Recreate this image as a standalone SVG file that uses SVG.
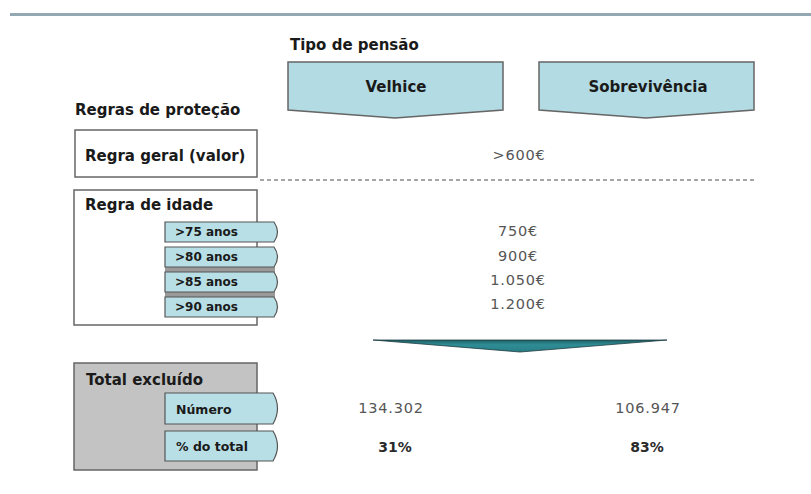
<svg xmlns="http://www.w3.org/2000/svg" width="811" height="494" viewBox="0 0 811 494">
<defs>
<style>
.t{font-family:"DejaVu Sans","Liberation Sans",sans-serif;font-weight:bold;fill:#1a1a1a}
.h{font-size:15px}
.s{font-size:12px}
.v{font-family:"DejaVu Sans","Liberation Sans",sans-serif;font-size:14.5px;letter-spacing:0.8px;fill:#555}
.vb{font-family:"DejaVu Sans","Liberation Sans",sans-serif;font-size:14px;font-weight:bold;fill:#2a2a2a}
.box{fill:#fff;stroke:#666;stroke-width:1.5}
.tab{fill:#b9dfe6;stroke:#555;stroke-width:1.2}
.hdr{fill:#b3dbe3;stroke:#666;stroke-width:1.5}
</style>
<linearGradient id="g" x1="0" y1="0" x2="0" y2="1">
<stop offset="0" stop-color="#1f5f66"/>
<stop offset="0.4" stop-color="#2f8d95"/>
<stop offset="1" stop-color="#2a7d86"/>
</linearGradient>
</defs>
<rect width="811" height="494" fill="#fff"/>
<rect x="10" y="13" width="801" height="3" fill="#94a8b4"/>

<g id="header">
<text class="t h" x="290" y="50">Tipo de pensão</text>
</g>
<g id="velhice">
<path class="hdr" d="M288,62 H503 V110 L395,118 L288,110 Z"/>
<text class="t h" x="396" y="92" text-anchor="middle">Velhice</text>
</g>
<g id="sobrevivencia">
<path class="hdr" d="M539,62 H754 V110 L646,118 L539,110 Z"/>
<text class="t h" x="648" y="92" text-anchor="middle">Sobrevivência</text>
</g>

<g id="regras">
<text class="t h" x="75" y="115">Regras de proteção</text>
</g>

<g id="regra-geral">
<rect class="box" x="75" y="130" width="182" height="47"/>
<text class="t h" x="85" y="161">Regra geral (valor)</text>
<text class="v" x="519" y="160" text-anchor="middle">&gt;600€</text>
</g>

<g id="connectors">
<line x1="260" y1="180" x2="755" y2="180" stroke="#888" stroke-width="1.3" stroke-dasharray="4,3"/>
<path d="M373,340 L667,340 L520,352 Z" fill="url(#g)" stroke="#1e3c40" stroke-width="0.8"/>
</g>

<g id="regra-idade">
<rect class="box" x="74" y="190" width="183" height="135"/>
<text class="t h" x="85" y="210">Regra de idade</text>
<rect x="165" y="267" width="110" height="5" fill="#9a9a9a"/>
<rect x="165" y="292" width="110" height="5" fill="#9a9a9a"/>
<path class="tab" d="M165,222 H274 Q281,232 274,242 H165 Z"/>
<text class="t s" x="175" y="236">&gt;75 anos</text>
<path class="tab" d="M165,247 H274 Q281,257 274,267 H165 Z"/>
<text class="t s" x="175" y="261">&gt;80 anos</text>
<path class="tab" d="M165,272 H274 Q281,282 274,292 H165 Z"/>
<text class="t s" x="175" y="286">&gt;85 anos</text>
<path class="tab" d="M165,297 H274 Q281,307 274,317 H165 Z"/>
<text class="t s" x="175" y="311">&gt;90 anos</text>
<text class="v" x="518" y="236" text-anchor="middle">750€</text>
<text class="v" x="518" y="261" text-anchor="middle">900€</text>
<text class="v" x="518" y="285" text-anchor="middle">1.050€</text>
<text class="v" x="518" y="309" text-anchor="middle">1.200€</text>
</g>

<g id="total">
<rect x="74" y="363" width="183" height="107" fill="#c3c3c3" stroke="#666" stroke-width="1.5"/>
<text class="t h" x="86" y="385">Total excluído</text>
<path class="tab" d="M165,393 H273 Q282,408 273,424 H165 Z"/>
<text class="t" x="176" y="414" font-size="12.5">Número</text>
<path class="tab" d="M165,431 H273 Q282,446 273,461 H165 Z"/>
<text class="t" x="176" y="451" font-size="12.5">% do total</text>
<text class="v" x="391" y="413" text-anchor="middle">134.302</text>
<text class="v" x="648" y="413" text-anchor="middle">106.947</text>
<text class="vb" x="395" y="452" text-anchor="middle">31%</text>
<text class="vb" x="647" y="452" text-anchor="middle">83%</text>
</g>
</svg>
